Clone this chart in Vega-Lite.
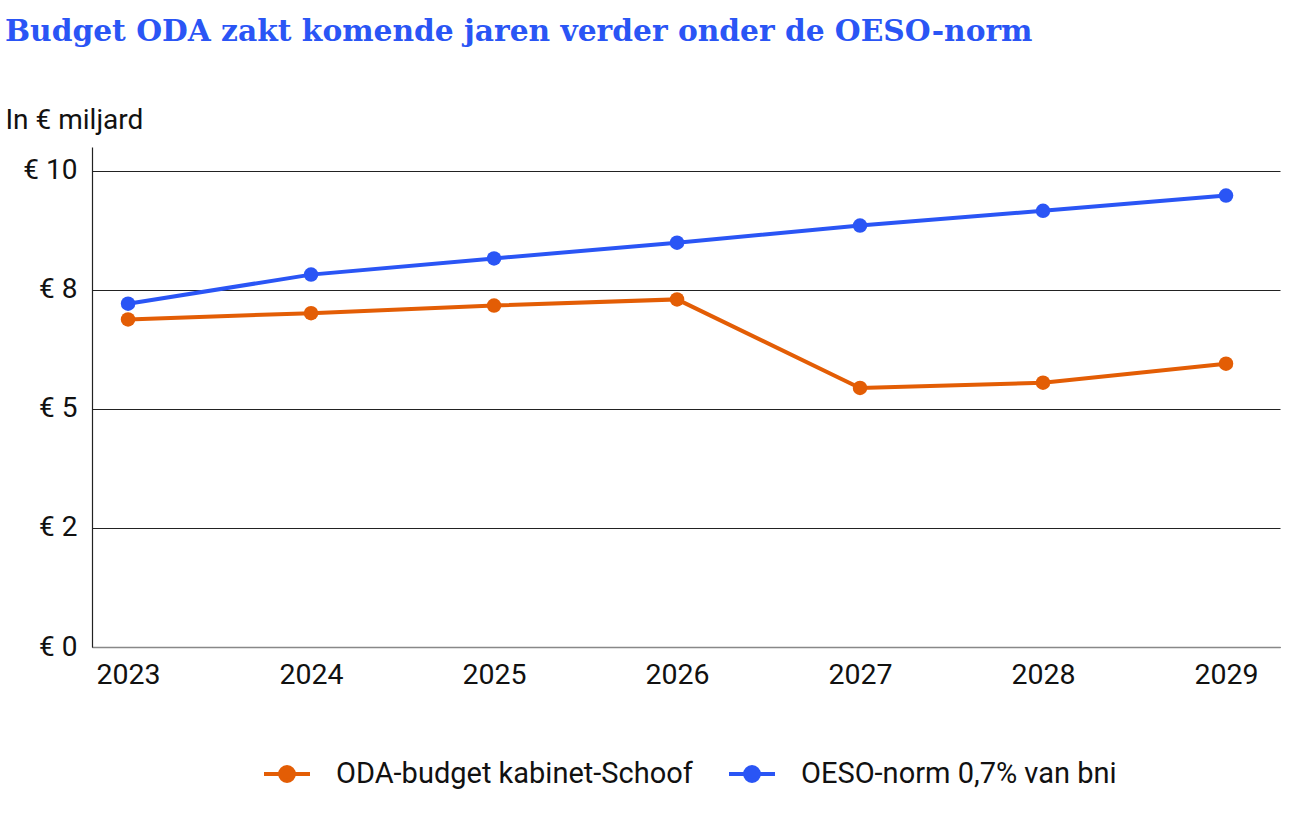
{
  "$schema": "https://vega.github.io/schema/vega-lite/v6.json",
  "autosize": "none",
  "width": 1188,
  "height": 500,
  "padding": {"left": 92, "top": 147, "right": 19, "bottom": 189},
  "background": "white",
  "title": {
    "text": "Budget ODA zakt komende jaren verder onder de OESO-norm",
    "anchor": "start",
    "frame": "group",
    "dx": -87,
    "font": "DejaVu Serif",
    "fontSize": 29.7,
    "fontWeight": "bold",
    "color": "#2a55f5",
    "offset": 58
  },
  "data": {
    "values": [
      {"year": 2023, "series": "ODA-budget kabinet-Schoof", "value": 6.88},
      {"year": 2024, "series": "ODA-budget kabinet-Schoof", "value": 7.01},
      {"year": 2025, "series": "ODA-budget kabinet-Schoof", "value": 7.17},
      {"year": 2026, "series": "ODA-budget kabinet-Schoof", "value": 7.30},
      {"year": 2027, "series": "ODA-budget kabinet-Schoof", "value": 5.44},
      {"year": 2028, "series": "ODA-budget kabinet-Schoof", "value": 5.55},
      {"year": 2029, "series": "ODA-budget kabinet-Schoof", "value": 5.95},
      {"year": 2023, "series": "OESO-norm 0,7% van bni", "value": 7.21},
      {"year": 2024, "series": "OESO-norm 0,7% van bni", "value": 7.82},
      {"year": 2025, "series": "OESO-norm 0,7% van bni", "value": 8.16},
      {"year": 2026, "series": "OESO-norm 0,7% van bni", "value": 8.49},
      {"year": 2027, "series": "OESO-norm 0,7% van bni", "value": 8.85},
      {"year": 2028, "series": "OESO-norm 0,7% van bni", "value": 9.16},
      {"year": 2029, "series": "OESO-norm 0,7% van bni", "value": 9.48}
    ]
  },
  "encoding": {
    "x": {
      "field": "year",
      "type": "quantitative",
      "scale": {"domain": [2022.803, 2029.295], "nice": false, "zero": false},
      "axis": {
        "title": null,
        "values": [2023, 2024, 2025, 2026, 2027, 2028, 2029],
        "format": "d",
        "grid": false,
        "ticks": false,
        "domainColor": "#888888",
        "domainWidth": 1.5,
        "labelFont": "Roboto",
        "labelFontSize": 28.5,
        "labelColor": "#111111",
        "labelPadding": 13,
        "labelFlush": false
      }
    },
    "y": {
      "field": "value",
      "type": "quantitative",
      "scale": {"domain": [0, 10.5], "nice": false},
      "axis": {
        "title": "In € miljard",
        "titleAngle": 0,
        "titleAlign": "left",
        "titleBaseline": "alphabetic",
        "titleX": -87,
        "titleY": -19,
        "titleFont": "Roboto",
        "titleFontSize": 28,
        "titleFontWeight": "normal",
        "titleColor": "#111111",
        "values": [0, 2.5, 5, 7.5, 10],
        "labelExpr": "'€ ' + (datum.value == 2.5 ? '2' : format(datum.value, '.0f'))",
        "grid": true,
        "gridColor": "#222222",
        "gridWidth": 1.2,
        "ticks": false,
        "domainColor": "#222222",
        "domainWidth": 1.2,
        "labelFont": "Roboto",
        "labelFontSize": 28,
        "labelColor": "#111111",
        "labelPadding": 15
      }
    },
    "color": {
      "field": "series",
      "type": "nominal",
      "scale": {
        "domain": ["ODA-budget kabinet-Schoof", "OESO-norm 0,7% van bni"],
        "range": ["#e35d05", "#2a55f5"]
      },
      "legend": {
        "title": null,
        "orient": "none",
        "legendX": 170,
        "legendY": 602,
        "direction": "horizontal",
        "labelFont": "Roboto",
        "labelFontSize": 29,
        "labelLimit": 1000,
        "labelColor": "#111111",
        "labelOffset": 24,
        "columnPadding": 28,
        "symbolType": "M-1,0H1M-0.3,0A0.3,0.3,0,1,0,0.3,0A0.3,0.3,0,1,0,-0.3,0Z",
        "symbolSize": 2116,
        "symbolStrokeWidth": 4,
        "encode": {
          "symbols": {
            "update": {
              "fill": {"scale": "color", "field": "value"},
              "stroke": {"scale": "color", "field": "value"},
              "opacity": {"value": 1}
            }
          }
        }
      }
    }
  },
  "layer": [
    {"mark": {"type": "line", "strokeWidth": 4}},
    {"mark": {"type": "point", "filled": true, "size": 210, "opacity": 1}}
  ],
  "config": {"view": {"stroke": null}}
}
